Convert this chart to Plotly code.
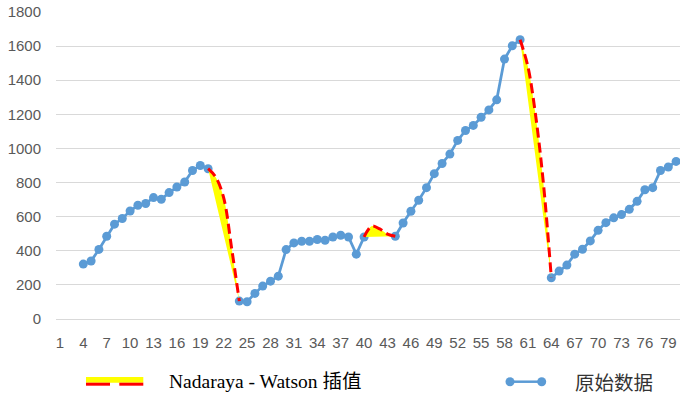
import plotly.graph_objects as go

# ---- data ----
categories = list(range(1, 81))
tick_labels = [str(c) for c in range(1, 81, 3)]

orig_x = list(range(4, 81))
orig_y = [322, 340, 408, 485, 556, 589, 633, 667, 677, 712, 702, 741, 774, 803, 871, 900, 881,
          None, None, None,
          105, 101, 150, 193, 222, 251, 407, 446, 456, 456, 466, 462, 481, 491, 481, 380, 481,
          None, None, None,
          485, 563, 632, 696, 770, 852, 912, 967, 1047, 1105, 1135, 1183, 1226, 1285, 1524, 1602, 1637,
          None, None, None,
          242, 281, 316, 380, 409, 458, 520, 565, 593, 612, 643, 690, 758, 770, 871, 891, 924]

nw1_x = [20, 21, 22, 23, 24]
nw1_y = [881, 830, 710, 420, 105]
nw2_x = [40, 41, 42, 43, 44]
nw2_y = [481, 545, 528, 498, 485]
nw3_x = [60, 61, 62, 63, 64]
nw3_y = [1637, 1480, 1190, 790, 242]

BLUE = "#5B9BD5"
YELLOW = "#FFFF00"
RED = "#FF0000"

fig = go.Figure()

fig.add_trace(go.Scatter(
    x=orig_x, y=orig_y, mode="lines+markers", connectgaps=False,
    line=dict(color=BLUE, width=2.75), marker=dict(color=BLUE, size=9),
    showlegend=False, hoverinfo="skip"))

for sx, sy in [(nw1_x, nw1_y), (nw2_x, nw2_y), (nw3_x, nw3_y)]:
    fig.add_trace(go.Scatter(
        x=[sx[0], sx[-1]], y=[sy[0], sy[-1]], mode="lines",
        line=dict(width=0, color=YELLOW), showlegend=False, hoverinfo="skip"))
    fig.add_trace(go.Scatter(
        x=sx, y=sy, mode="lines", fill="tonexty", fillcolor=YELLOW,
        line=dict(color=RED, width=3, dash="10px,5px", shape="spline", smoothing=1),
        showlegend=False, hoverinfo="skip"))

# ---- custom legend (pixel -> paper) ----
L, R, T, B = 56, 680, 12, 319
def px(x):
    return (x - L) / (R - L)
def py(y):
    return (B - y) / (B - T)

shapes = [
    dict(type="rect", xref="paper", yref="paper", x0=px(86), x1=px(143.3), y0=py(382.7), y1=py(377),
         fillcolor=YELLOW, line=dict(width=0)),
    dict(type="rect", xref="paper", yref="paper", x0=px(86), x1=px(110), y0=py(385.7), y1=py(382.7),
         fillcolor=RED, line=dict(width=0)),
    dict(type="rect", xref="paper", yref="paper", x0=px(119.3), x1=px(143.3), y0=py(385.7), y1=py(382.7),
         fillcolor=RED, line=dict(width=0)),
    dict(type="line", xref="paper", yref="paper", x0=px(510), x1=px(541.7), y0=py(381.7), y1=py(381.7),
         line=dict(color=BLUE, width=2.5)),
]
for cx in (510, 541.7):
    shapes.append(dict(type="circle", xref="paper", yref="paper", xsizemode="pixel", ysizemode="pixel",
                       xanchor=px(cx), yanchor=py(381.7), x0=-4.5, x1=4.5, y0=-4.5, y1=4.5,
                       fillcolor=BLUE, line=dict(width=0)))

annotations = [
    dict(text="Nadaraya - Watson 插值", xref="paper", yref="paper", x=px(167), y=py(381.5),
         xanchor="left", yanchor="middle", showarrow=False,
         font=dict(family="Liberation Serif, Noto Sans CJK SC", size=19.5, color="#000000")),
    dict(text="原始数据", xref="paper", yref="paper", x=px(572.5), y=py(381.5),
         xanchor="left", yanchor="middle", showarrow=False,
         font=dict(family="Noto Sans CJK SC", size=19.5, color="#333333")),
]

fig.update_layout(
    width=688, height=397,
    margin=dict(l=L, r=688 - R, t=T, b=397 - B, autoexpand=False),
    paper_bgcolor="white", plot_bgcolor="white",
    showlegend=False,
    shapes=shapes, annotations=annotations,
    font=dict(family="Liberation Sans", size=15, color="#595959"),
)
fig.update_xaxes(
    range=[0.5, 80.5], tickmode="array", tickvals=list(range(1, 81, 3)), ticktext=tick_labels,
    showgrid=False, zeroline=False, showline=True, linecolor="#D9D9D9", linewidth=1,
    ticks="", ticklabelstandoff=10, automargin=False, tickfont=dict(size=15, color="#595959"))
fig.update_yaxes(
    range=[0, 1800], dtick=200, tick0=0, showgrid=True, gridcolor="#D9D9D9", gridwidth=1,
    zeroline=False, showline=False, ticks="", ticklabelstandoff=14, automargin=False,
    tickfont=dict(size=15, color="#595959"))

fig.write_html("out.html", config={"displayModeBar": False},
               post_script="document.body.style.margin='0';document.body.style.padding='0';")
